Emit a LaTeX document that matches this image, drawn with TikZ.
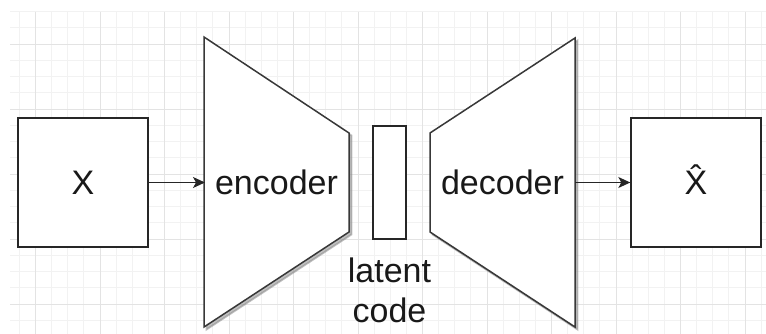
\documentclass[tikz,border=0pt]{standalone}
\usepackage{fontspec}
\setmainfont{Liberation Sans}
\usetikzlibrary{arrows.meta}
\begin{document}
\begin{tikzpicture}[x=1pt,y=-1pt,
  gridminor/.style={draw=black!5, line width=0.8pt},
  gridmajor/.style={draw=black!11, line width=0.9pt},
  box/.style={draw=black!85, line width=1.4pt, fill=white, inner sep=0pt},
  txt/.style={font=\fontsize{34}{40}\selectfont, text=black!90, inner sep=0pt},
  trap/.style={draw=black!78, line width=1.5pt, fill=white},
  trapshadow/.style={fill=black!45, draw=black!45, line width=1.8pt, opacity=0.55},
  link/.style={draw=black!85, line width=1.3pt, -{Stealth[length=12pt,width=11pt,inset=3pt]}}
]
\useasboundingbox (0,0) rectangle (766,334);

% background grid
\begin{scope}
  \clip (10,12) rectangle (766,334);
  \foreach \i in {-1,...,45} \draw[gridminor] ({35.5+16.125*\i},12) -- ++(0,322);
  \foreach \j in {-2,...,18} \draw[gridminor] (10,{44+16.25*\j}) -- ++(756,0);
  \foreach \k in {0,...,11} \draw[gridmajor] ({35.5+64.5*\k},12) -- ++(0,322);
  \foreach \k in {0,...,4} \draw[gridmajor] (10,{44+65*\k}) -- ++(756,0);
\end{scope}

% input and output boxes
\node[box, minimum width=130pt, minimum height=129pt] (xin) at (83,182.5) {};
\node[txt, anchor=base] (xlabel) at (83,194.7) {X};
\node[box, minimum width=130pt, minimum height=129pt] (xout) at (696,182.5) {};
\node[txt, anchor=base] (xhatlabel) at (696,194.7) {\^{X}};

% encoder
\path[trapshadow, shift={(2.5,2.5)}] (204,37) -- (349,133) -- (349,232) -- (204,327) -- cycle;
\path[trap] (204,37) -- (349,133) -- (349,232) -- (204,327) -- cycle;
\coordinate (encin) at (205,182.5);
\node[txt, anchor=base] (enc) at (276.5,194.7) {encoder};

% latent code
\node[box, minimum width=33pt, minimum height=113pt] (latent) at (389.5,182.5) {};
\node[txt, align=center, anchor=north] (latentlabel) at (389.5,258) {latent\\code};

% decoder
\path[trapshadow, shift={(2.5,2.5)}] (430,133) -- (575,38) -- (575,327) -- (430,232) -- cycle;
\path[trap] (430,133) -- (575,38) -- (575,327) -- (430,232) -- cycle;
\coordinate (decout) at (575,182.5);
\node[txt, anchor=base] (dec) at (502.5,194.7) {decoder};

% connectors
\draw[link] (xin.east) -- (encin);
\draw[link] (decout) -- (xout.west);
\end{tikzpicture}
\end{document}
